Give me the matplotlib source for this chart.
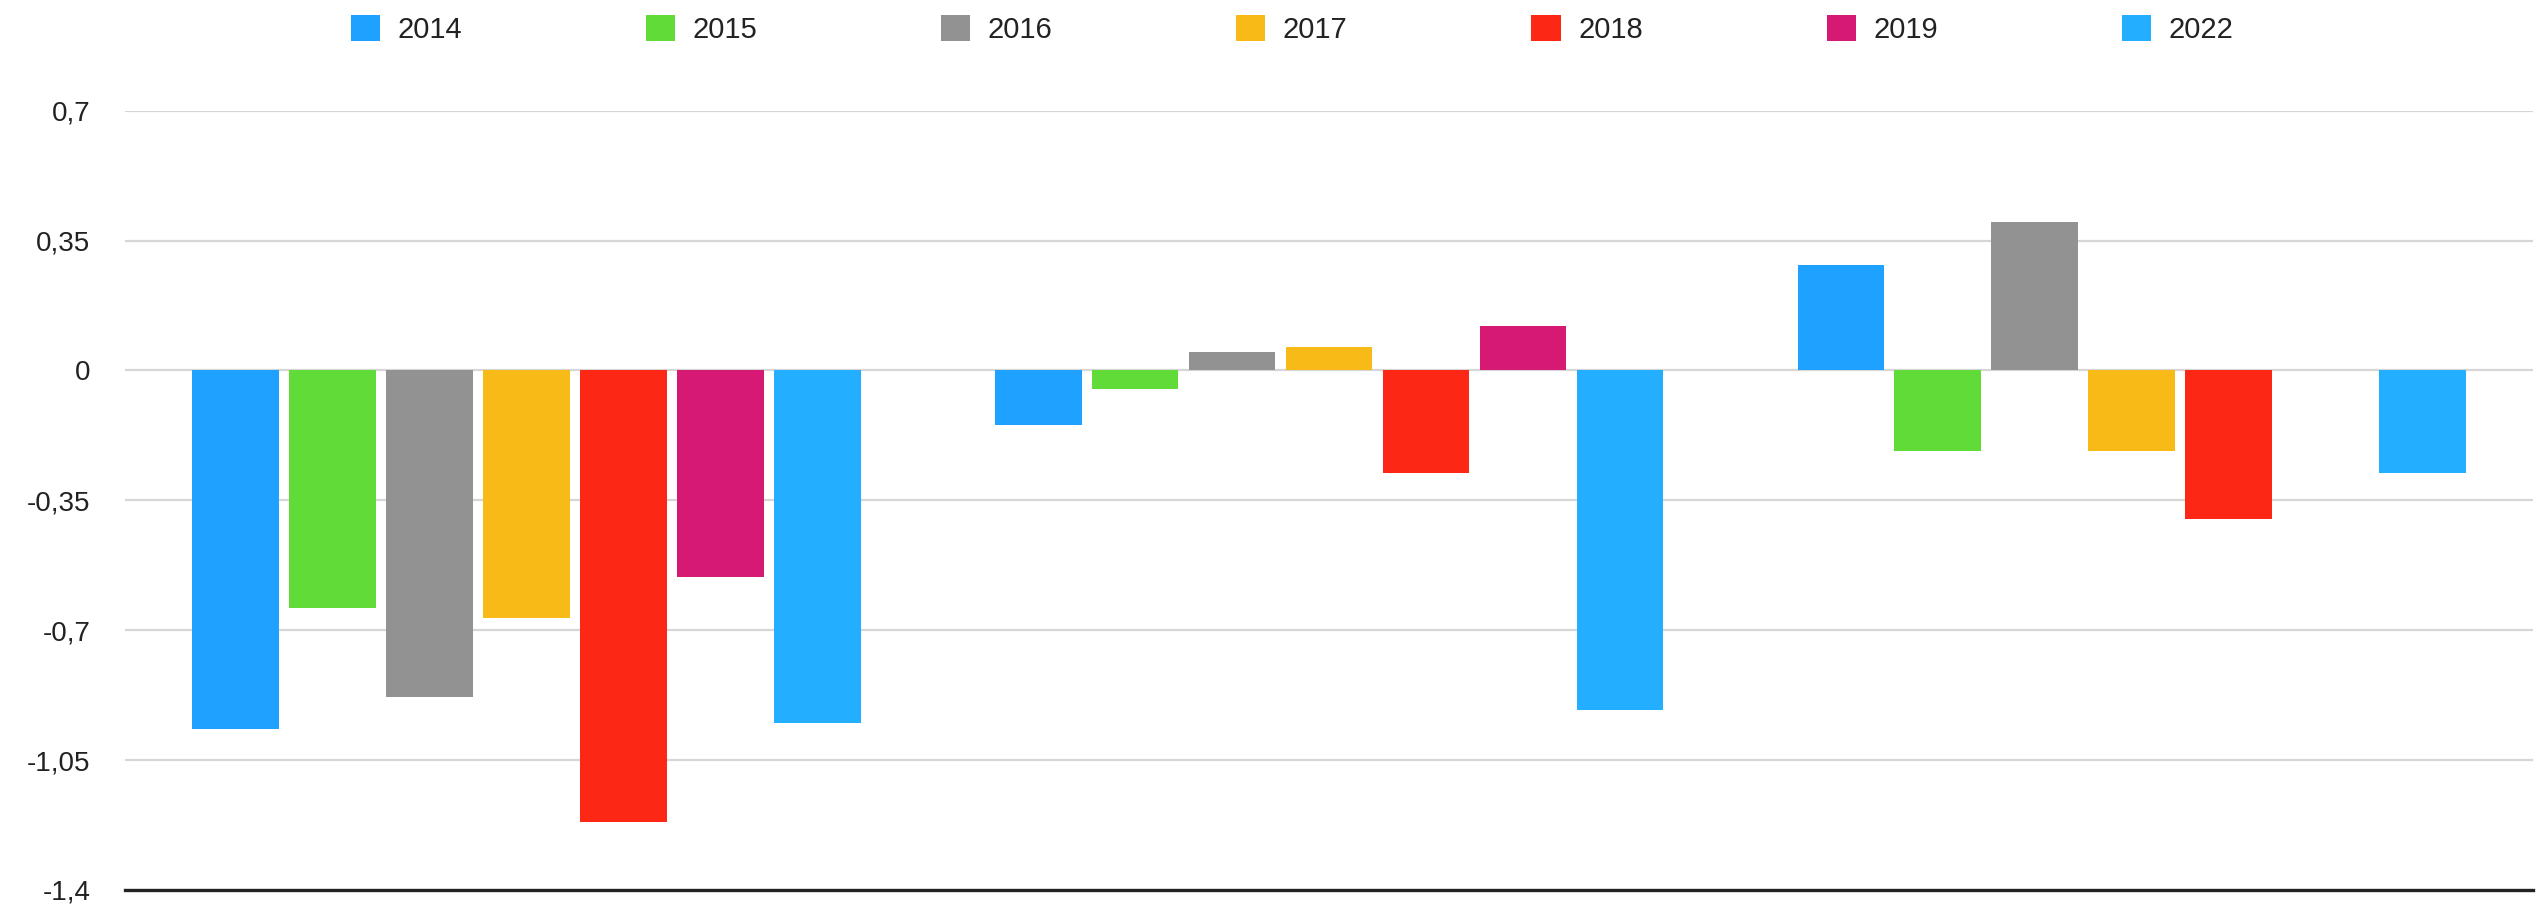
import numpy as np
import matplotlib
matplotlib.use("Agg")
import matplotlib.pyplot as plt
from matplotlib.patches import Patch

# ---- data ----
groups = ["A", "B", "C"]
series = ["2014", "2015", "2016", "2017", "2018", "2019", "2022"]
v2014 = [-0.966, -0.146, 0.284]
v2015 = [-0.640, -0.049, -0.218]
v2016 = [-0.880, 0.049, 0.400]
v2017 = [-0.666, 0.062, -0.218]
v2018 = [-1.218, -0.277, -0.400]
v2019 = [-0.556, 0.120, np.nan]
v2022 = [-0.951, -0.914, -0.277]
values = [v2014, v2015, v2016, v2017, v2018, v2019, v2022]
colors = ["#1FA2FF", "#61DB37", "#929292", "#F8BA16", "#FC2815", "#D61A74", "#24AEFF"]
yticks = [-1.4, -1.05, -0.7, -0.35, 0, 0.35, 0.7]
yticklabels = ["-1,4", "-1,05", "-0,7", "-0,35", "0", "0,35", "0,7"]

plt.rcParams["font.family"] = ["Liberation Sans", "DejaVu Sans"]

fig = plt.figure(figsize=(25.41, 9.13), dpi=100)
ax = fig.add_axes([0.0492, 0.0252, 0.9477, 0.8536])

x = np.arange(len(groups))
pitch = 0.1208
width = 0.108
n = len(series)
for i, (vals, c) in enumerate(zip(values, colors)):
    offs = (i - (n - 1) / 2) * pitch
    ax.bar(x + offs, vals, width=width, color=c, zorder=3, linewidth=0)

ax.set_xlim(-0.5, len(groups) - 0.5)
ax.set_ylim(-1.4, 0.7)
ax.set_yticks(yticks)
ax.set_yticklabels(yticklabels, fontsize=20, color="#222222")
ax.tick_params(axis="y", length=0, pad=25)
ax.set_xticks([])
ax.yaxis.grid(True, color="#d6d6d6", linewidth=1.6, zorder=0)
for s in ["top", "right", "left"]:
    ax.spines[s].set_visible(False)
ax.spines["bottom"].set_color("#222222")
ax.spines["bottom"].set_linewidth(2.4)
ax.spines["bottom"].set_zorder(4)

handles = [Patch(facecolor=c, edgecolor="none") for c in colors]
fig.legend(handles, series, loc="center", bbox_to_anchor=(0.5085, 0.9677),
           ncol=n, frameon=False, fontsize=21, handlelength=1.0,
           handleheight=1.0, handletextpad=0.6, columnspacing=6.3,
           borderpad=0, labelcolor="#222222")

fig.savefig("out.png", dpi=100, facecolor="white")
